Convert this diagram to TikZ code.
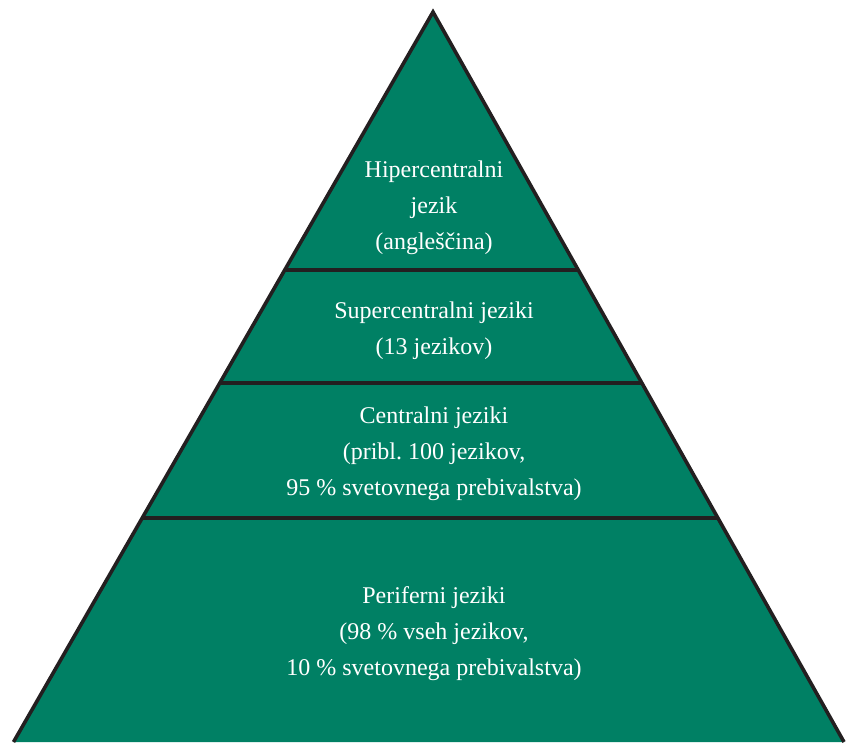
\documentclass[tikz,border=0pt]{standalone}
\usepackage{fontspec}
\setmainfont{Liberation Serif}
\usetikzlibrary{calc}
\definecolor{pgreen}{RGB}{0,128,100}
\definecolor{pline}{RGB}{35,31,32}
\tikzset{
  lbl/.style={text=white, align=center, font=\fontsize{24}{36}\selectfont\frenchspacing, inner sep=0pt},
  divider/.style={draw=pline, line width=3.2pt},
}
\begin{document}
\begin{tikzpicture}[x=1pt,y=-1pt]
\useasboundingbox (0,0) rectangle (848,742);
\coordinate (apex) at (433,12);
\coordinate (bl) at (13.5,742);
\coordinate (br) at (844,742);
\fill[pgreen] (apex) -- (bl) -- (br) -- cycle;
\foreach \t/\n in {0.3534/a,0.5082/b,0.6932/c}{
  \coordinate (l\n) at ($(apex)!\t!(bl)$);
  \coordinate (r\n) at ($(apex)!\t!(br)$);
  \draw[divider] (l\n) -- (r\n);
}
\draw[pline, line width=3.6pt, line join=miter] (bl) -- (apex) -- (br);
\node[lbl] (hyper) at (434,208) {Hipercentralni\\jezik\\(angleščina)};
\node[lbl] (super) at (434,331) {Supercentralni jeziki\\(13 jezikov)};
\node[lbl] (central) at (434,454) {Centralni jeziki\\(pribl.\ 100 jezikov,\\95 \% svetovnega prebivalstva)};
\node[lbl] (periph) at (434,634) {Periferni jeziki\\(98 \% vseh jezikov,\\10 \% svetovnega prebivalstva)};
\end{tikzpicture}
\end{document}
